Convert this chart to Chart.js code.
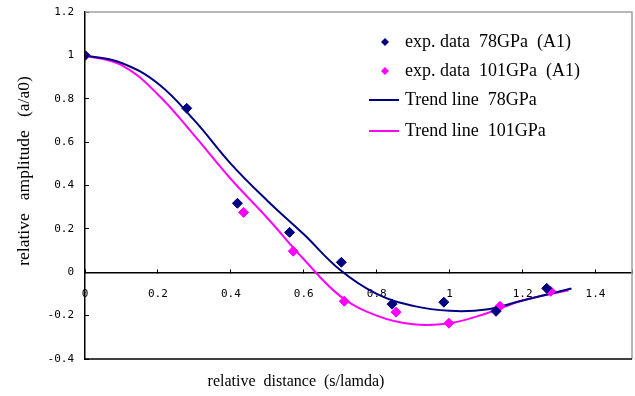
<!DOCTYPE html>
<html>
<head>
<meta charset="utf-8">
<script src="https://cdn.jsdelivr.net/npm/chart.js@4/dist/chart.umd.min.js"></script>
<style>
  html, body { margin: 0; padding: 0; background: #fff; overflow: hidden; }
</style>
</head>
<body>
<canvas id="chart" width="638" height="396"></canvas>
<script>
// exp. data (x = s/lamda, y = a/a0)
var exp78X = [0, 0.279, 0.418, 0.561, 0.703, 0.842, 0.984, 1.127, 1.266];
var exp78Y = [1.0, 0.756, 0.318, 0.184, 0.046, -0.147, -0.138, -0.18, -0.074];
var exp101X = [0, 0.435, 0.571, 0.711, 0.853, 0.998, 1.138, 1.277];
var exp101Y = [1.0, 0.276, 0.097, -0.134, -0.184, -0.235, -0.157, -0.088];

// trend lines
var trend78X = [0, 0.1, 0.2, 0.3, 0.4, 0.5, 0.6, 0.7, 0.8, 0.9, 1.0, 1.1, 1.2, 1.334];
var trend78Y = [1.0, 0.965, 0.87, 0.70, 0.50, 0.33, 0.175, 0.01, -0.10, -0.155, -0.178, -0.172, -0.13, -0.075];
var trend101X = [0, 0.1, 0.2, 0.3, 0.4, 0.5, 0.6, 0.7, 0.8, 0.9, 1.0, 1.1, 1.2, 1.326];
var trend101Y = [1.0, 0.955, 0.82, 0.63, 0.43, 0.25, 0.06, -0.11, -0.20, -0.24, -0.235, -0.19, -0.13, -0.083];

var legendLabels = ['exp. data  78GPa  (A1)', 'exp. data  101GPa  (A1)', 'Trend line  78GPa', 'Trend line  101GPa'];
var xTitle = 'relative  distance  (s/lamda)';
var yTitle = 'relative   amplitude   (a/a0)';

var NAVY = '#000080';
var PINK = '#ff00ff';

function pts(xs, ys) {
    return xs.map(function(x, i) { return { x: x, y: ys[i] }; });
}

function fmt(v) {
    return String(Math.round(v * 10) / 10);
}

var decorPlugin = {
    id: 'decor',
    afterDraw: function(chart) {
        var ctx = chart.ctx, a = chart.chartArea;
        ctx.save();
        // frame: grey top/right, black bottom
        ctx.lineWidth = 1.5;
        ctx.strokeStyle = '#a0a0a0';
        ctx.beginPath();
        ctx.moveTo(a.left, a.top);
        ctx.lineTo(a.right, a.top);
        ctx.lineTo(a.right, a.bottom);
        ctx.stroke();
        ctx.strokeStyle = '#000';
        ctx.beginPath();
        ctx.moveTo(a.left, a.bottom);
        ctx.lineTo(a.right, a.bottom);
        ctx.stroke();

        // axis titles
        ctx.fillStyle = '#000';
        ctx.font = '16px "Liberation Serif"';
        ctx.textAlign = 'center';
        ctx.textBaseline = 'middle';
        ctx.fillText(xTitle, 296, 382);
        ctx.save();
        ctx.font = '17.5px "Liberation Serif"';
        ctx.translate(24, 171);
        ctx.rotate(-Math.PI / 2);
        ctx.fillText(yTitle, 0, 0);
        ctx.restore();

        // legend
        var rows = [42, 71, 100, 131];
        var colors = [NAVY, PINK, NAVY, PINK];
        ctx.font = '18px "Liberation Serif"';
        ctx.textAlign = 'left';
        rows.forEach(function(y, i) {
            ctx.fillStyle = colors[i];
            ctx.strokeStyle = colors[i];
            if (i < 2) {
                ctx.beginPath();
                ctx.moveTo(385, y - 4);
                ctx.lineTo(389, y);
                ctx.lineTo(385, y + 4);
                ctx.lineTo(381, y);
                ctx.closePath();
                ctx.fill();
            } else {
                ctx.lineWidth = 2;
                ctx.beginPath();
                ctx.moveTo(369, y);
                ctx.lineTo(399, y);
                ctx.stroke();
            }
            ctx.fillStyle = '#000';
            ctx.fillText(legendLabels[i], 405, y);
        });
        ctx.restore();
    }
};

new Chart(document.getElementById('chart'), {
    type: 'scatter',
    data: {
        datasets: [
            {
                label: legendLabels[0],
                data: pts(exp78X, exp78Y),
                pointStyle: 'rectRot',
                pointRadius: 5,
                backgroundColor: NAVY,
                borderColor: NAVY,
            },
            {
                label: legendLabels[1],
                data: pts(exp101X, exp101Y),
                pointStyle: 'rectRot',
                pointRadius: 5,
                backgroundColor: PINK,
                borderColor: PINK,
            },
            {
                label: legendLabels[2],
                data: pts(trend78X, trend78Y),
                showLine: true,
                pointRadius: 0,
                borderColor: NAVY,
                borderWidth: 2,
                tension: 0.4,
            },
            {
                label: legendLabels[3],
                data: pts(trend101X, trend101Y),
                showLine: true,
                pointRadius: 0,
                borderColor: PINK,
                borderWidth: 2,
                tension: 0.4,
            },
        ],
    },
    options: {
        responsive: false,
        animation: false,
        layout: { padding: { top: 12, right: 0, left: 0, bottom: 37 } },
        plugins: { legend: { display: false }, tooltip: { enabled: false } },
        scales: {
            x: {
                type: 'linear',
                min: 0,
                max: 1.5,
                position: { y: 0 },
                afterFit: function(s) { s.paddingLeft = 0; s.paddingRight = 0; },
                border: { color: '#000', width: 1.5 },
                grid: { drawOnChartArea: false, tickLength: -4, color: '#000' },
                ticks: {
                    stepSize: 0.2,
                    padding: 19,
                    maxRotation: 0,
                    color: '#000',
                    font: { family: 'DejaVu Sans Mono', size: 11 },
                    callback: function(v) { return v > 1.45 ? '' : fmt(v); },
                },
            },
            y: {
                min: -0.4,
                max: 1.2,
                afterFit: function(s) { s.width = 85; s.paddingTop = 0; s.paddingBottom = 0; },
                border: { color: '#000', width: 1.5 },
                grid: { drawOnChartArea: false, tickLength: -4, color: '#000' },
                ticks: {
                    stepSize: 0.2,
                    padding: 15,
                    color: '#000',
                    font: { family: 'DejaVu Sans Mono', size: 11 },
                    callback: function(v) { return fmt(v); },
                },
            },
        },
    },
    plugins: [decorPlugin],
});
</script>
</body>
</html>
